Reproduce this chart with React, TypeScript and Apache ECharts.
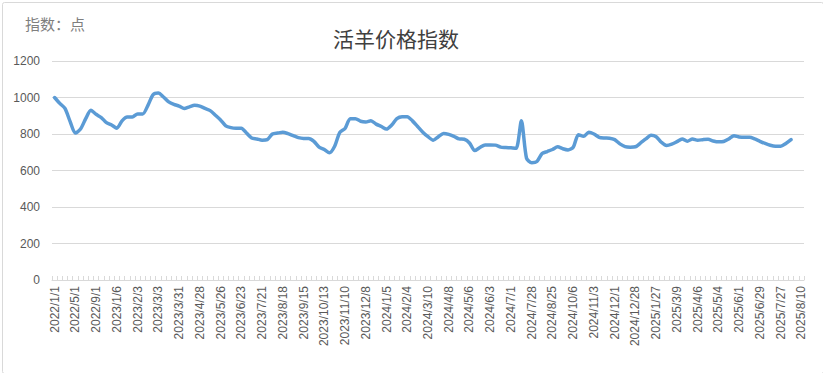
import React, { useEffect, useRef } from "react";
import * as echarts from "echarts";

const TITLE = "活羊价格指数";
const UNIT = "指数：点";

// Labeled dates shown on the x axis (every 4th category)
const tickLabels = [
  "2022/1/1", "2022/5/1", "2022/9/1", "2023/1/6", "2023/2/3", "2023/3/3", "2023/3/31",
  "2023/4/28", "2023/5/26", "2023/6/23", "2023/7/21", "2023/8/18", "2023/9/15", "2023/10/13",
  "2023/11/10", "2023/12/8", "2024/1/5", "2024/2/4", "2024/3/10", "2024/4/8", "2024/5/6",
  "2024/6/3", "2024/7/1", "2024/7/28", "2024/8/25", "2024/10/6", "2024/11/3", "2024/12/1",
  "2024/12/28", "2025/1/27", "2025/3/9", "2025/4/6", "2025/5/4", "2025/6/1", "2025/6/29",
  "2025/7/27", "2025/8/10",
];

// Index values (one per category; last two categories empty)
const values: (number | null)[] = [
  1000, 968, 940, 868, 805, 827, 884, 930, 908, 890,
  862, 849, 832, 872, 893, 893, 910, 910, 957, 1016,
  1025, 1003, 976, 962, 953, 940, 949, 957, 953, 940,
  928, 903, 877, 845, 835, 832, 832, 805, 778, 773,
  766, 769, 800, 805, 809, 802, 791, 780, 776, 776,
  760, 728, 715, 697, 733, 809, 830, 884, 884, 870,
  866, 873, 854, 841, 827, 849, 884, 895, 895, 872,
  841, 810, 785, 766, 785, 803, 798, 787, 773, 771,
  751, 709, 726, 740, 740, 739, 728, 726, 724, 722,
  872, 667, 643, 649, 693, 704, 715, 730, 719, 713,
  728, 796, 787, 809, 800, 782, 778, 777, 769, 746,
  731, 728, 730, 751, 773, 793, 785, 755, 737, 744,
  758, 773, 760, 773, 766, 769, 771, 762, 757, 759,
  773, 791, 784, 782, 782, 773, 760, 748, 738, 733,
  733, 748, 769, null, null,
];

const STEP = 4;

function buildCategories(): string[] {
  const out: string[] = [];
  const parse = (s: string) => {
    const [y, m, d] = s.split("/").map(Number);
    return new Date(y, m - 1, d).getTime();
  };
  const fmt = (t: number) => {
    const d = new Date(t);
    return `${d.getFullYear()}/${d.getMonth() + 1}/${d.getDate()}`;
  };
  for (let k = 0; k < tickLabels.length; k++) {
    out.push(tickLabels[k]);
    if (k < tickLabels.length - 1) {
      const a = parse(tickLabels[k]);
      const b = parse(tickLabels[k + 1]);
      for (let j = 1; j < STEP; j++) {
        const t = a + Math.round(((b - a) * j) / STEP / 86400000) * 86400000;
        out.push(fmt(t));
      }
    }
  }
  return out;
}

export default function App() {
  const ref = useRef<HTMLDivElement>(null);
  useEffect(() => {
    if (!ref.current) return;
    const chart = echarts.init(ref.current, undefined, { renderer: "svg" });
    const categories = buildCategories();
    chart.setOption({
      animation: false,
      backgroundColor: "#ffffff",
      graphic: [
        {
          type: "rect",
          left: 0,
          top: 0,
          shape: { x: 0.5, y: 0.5, width: 821, height: 371, r: 2 },
          style: { fill: "none", stroke: "#d9d9d9", lineWidth: 1 },
          silent: true,
        },
        {
          type: "text",
          left: 25,
          top: 16,
          style: {
            text: UNIT,
            fill: "#7f7f7f",
            font: '15px "Noto Sans CJK SC"',
          },
        },
        {
          type: "text",
          left: 333,
          top: 27,
          style: {
            text: TITLE,
            fill: "#404040",
            font: '21px "Noto Sans CJK SC"',
          },
        },
      ],
      grid: { left: 52, right: 19, top: 61, bottom: 93, containLabel: false },
      xAxis: {
        type: "category",
        data: categories,
        boundaryGap: true,
        axisLine: { lineStyle: { color: "#d9d9d9", width: 1 } },
        axisTick: {
          show: true,
          inside: true,
          length: 4,
          interval: 0,
          lineStyle: { color: "#d9d9d9" },
        },
        axisLabel: {
          interval: STEP - 1,
          rotate: 90,
          margin: 6,
          color: "#595959",
          fontSize: 12,
          fontFamily: '"Liberation Sans", Arial, sans-serif',
        },
        splitLine: { show: false },
      },
      yAxis: {
        type: "value",
        min: 0,
        max: 1200,
        interval: 200,
        axisLine: { show: false },
        axisTick: { show: false },
        axisLabel: {
          color: "#595959",
          fontSize: 12,
          margin: 12,
          fontFamily: '"Liberation Sans", Arial, sans-serif',
          formatter: (v: number) => String(v),
        },
        splitLine: { lineStyle: { color: "#d9d9d9", width: 1 } },
      },
      series: [
        {
          type: "line",
          data: values,
          showSymbol: false,
          smooth: 0.25,
          connectNulls: false,
          lineStyle: { color: "#5b9bd5", width: 3.5, cap: "round", join: "round" },
          itemStyle: { color: "#5b9bd5" },
        },
      ],
    });
    return () => chart.dispose();
  }, []);
  return (
    <div
      ref={ref}
      style={{ position: "fixed", left: 0, top: 0, width: 823, height: 373, background: "#fff" }}
    />
  );
}
